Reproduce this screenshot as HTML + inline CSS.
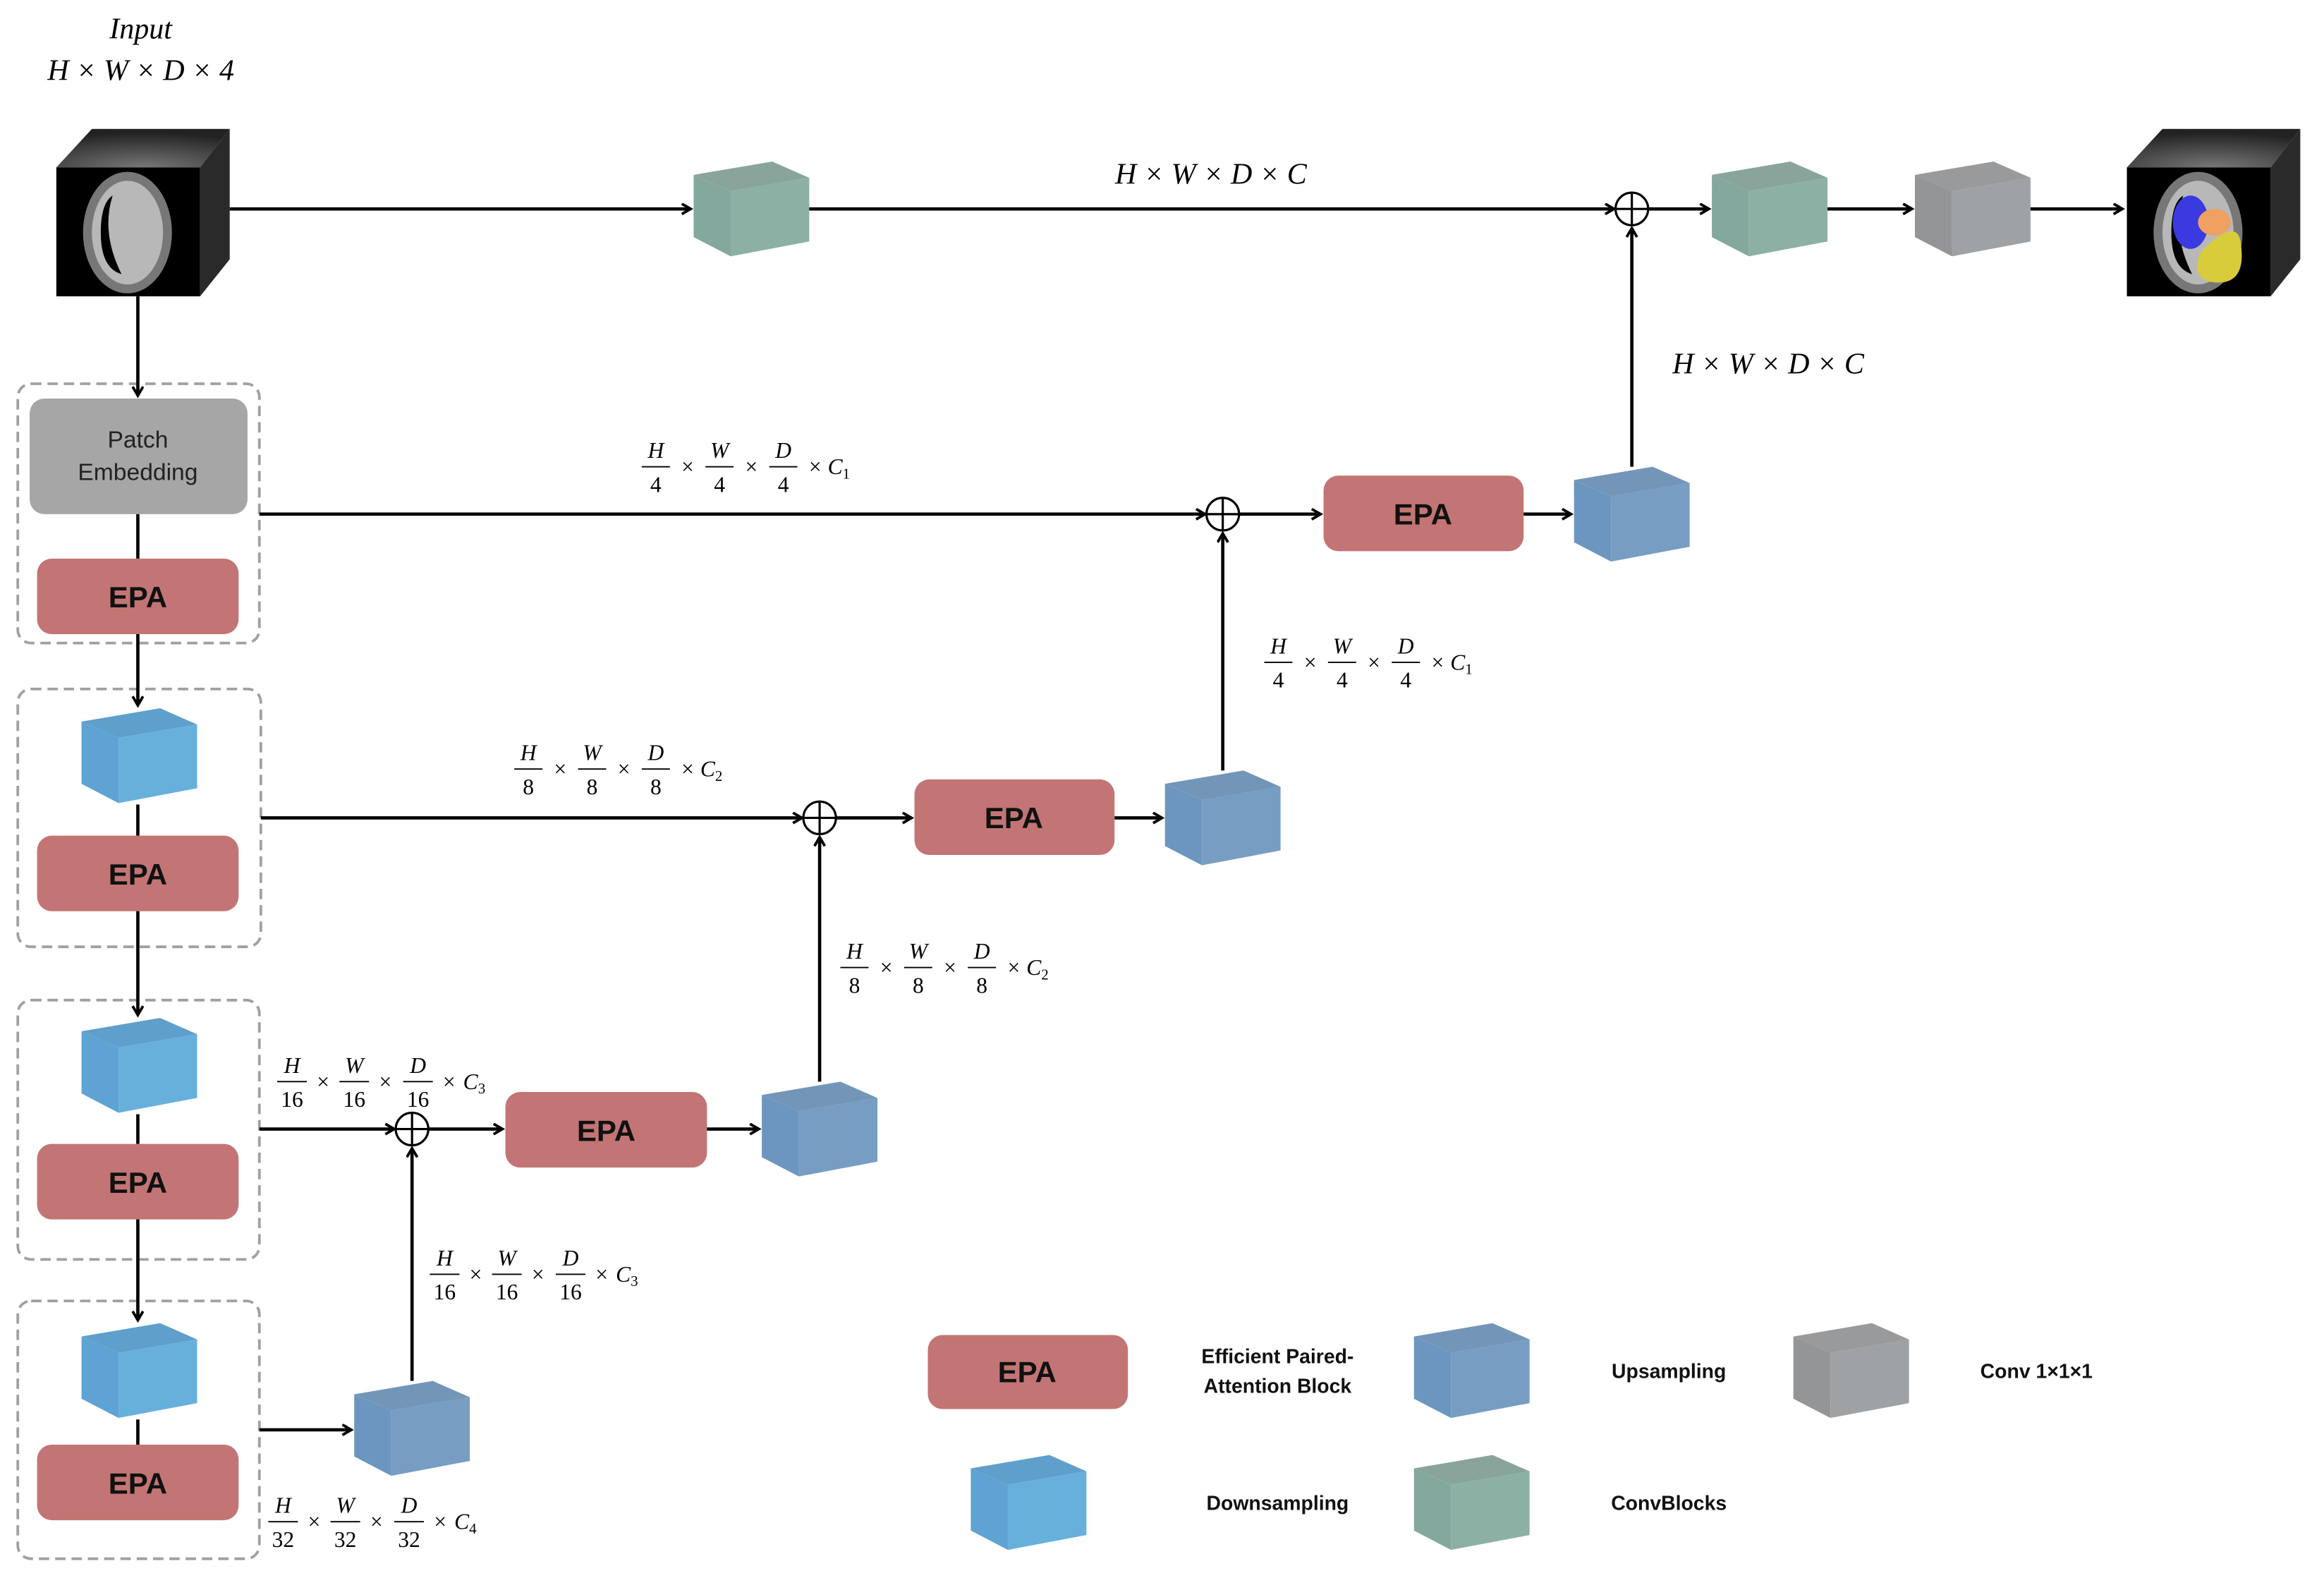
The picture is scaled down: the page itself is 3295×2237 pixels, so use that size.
<!DOCTYPE html>
<html><head><meta charset="utf-8"><style>
html,body{margin:0;padding:0;background:#fff;}
svg{display:block;}
.m text{font-family:"Liberation Serif",serif;font-style:italic;font-size:15px;text-anchor:middle;}
.m text.n{font-style:normal;}
.m line{stroke:#000;stroke-width:0.9;}
.ln{stroke:#000;stroke-width:2.2;fill:none;}
.epa{fill:#c27574;}
.et{font-family:"Liberation Sans",sans-serif;font-weight:bold;font-size:20px;text-anchor:middle;fill:#111;}
.lg{font-family:"Liberation Sans",sans-serif;font-weight:bold;font-size:13.5px;text-anchor:middle;fill:#111;}
</style></head><body>
<svg width="3295" height="2237" viewBox="0 0 1568 1065" preserveAspectRatio="none" xmlns="http://www.w3.org/2000/svg">
<defs>
<marker id="ar" markerWidth="10" markerHeight="10" refX="7" refY="4" orient="auto" markerUnits="userSpaceOnUse">
<path d="M1,0.5 L7,4 L1,7.5" fill="none" stroke="#000" stroke-width="1.8"/></marker>
<g id="cD"><polygon points="0,9 53,0 78,11 25,20" fill="#5f9fcb"/><polygon points="0,9 25,20 25,64 0,51" fill="#5ea3d3"/><polygon points="25,20 78,11 78,54 25,64" fill="#68b0dc"/></g>
<g id="cU"><polygon points="0,9 53,0 78,11 25,20" fill="#7396b8"/><polygon points="0,9 25,20 25,64 0,51" fill="#6c96bf"/><polygon points="25,20 78,11 78,54 25,64" fill="#779dc2"/></g>
<g id="cG"><polygon points="0,9 53,0 78,11 25,20" fill="#89a59b"/><polygon points="0,9 25,20 25,64 0,51" fill="#84a89d"/><polygon points="25,20 78,11 78,54 25,64" fill="#8db0a5"/></g>
<g id="cY"><polygon points="0,9 53,0 78,11 25,20" fill="#999a9b"/><polygon points="0,9 25,20 25,64 0,51" fill="#939596"/><polygon points="25,20 78,11 78,54 25,64" fill="#9ea2a4"/></g>
<radialGradient id="tg" cx="0.5" cy="1" r="0.9"><stop offset="0" stop-color="#777"/><stop offset="1" stop-color="#222"/></radialGradient>
<g id="ct"><polygon points="0,26 24,0 117,0 97,26" fill="url(#tg)"/><polygon points="97,26 117,0 117,88 97,113" fill="#2a2a2a"/><rect x="0" y="26" width="97" height="87" fill="#000"/>
<ellipse cx="48" cy="70" rx="30" ry="41" fill="#777"/><ellipse cx="48" cy="70" rx="24" ry="35" fill="#b8b8b8"/><path d="M38,45 Q30,70 44,98 Q30,94 30,70 Q30,50 38,45Z" fill="#000"/></g>
</defs>

<!-- Input label -->
<text x="95" y="26" font-family="Liberation Serif,serif" font-style="italic" font-size="20" text-anchor="middle">Input</text>
<text x="95" y="54" font-family="Liberation Serif,serif" font-style="italic" font-size="20" text-anchor="middle">H × W × D × 4</text>

<use href="#ct" x="38" y="87"/>
<use href="#ct" x="1435" y="87"/>
<ellipse cx="1478" cy="150" rx="12" ry="18" fill="#3a3ae0"/>
<ellipse cx="1494" cy="150" rx="11" ry="9" fill="#f0a060"/>
<path d="M1485,170 Q1510,145 1512,165 Q1516,195 1490,190 Q1478,185 1485,170Z" fill="#d9cc3b"/>

<!-- top row -->
<line class="ln" x1="155" y1="141" x2="466" y2="141" marker-end="url(#ar)"/>
<use href="#cG" x="468" y="109"/>
<line class="ln" x1="546" y1="141" x2="1089" y2="141" marker-end="url(#ar)"/>
<circle cx="1101" cy="141" r="11" fill="none" stroke="#000" stroke-width="1.5"/>
<line x1="1090" y1="141" x2="1112" y2="141" stroke="#000" stroke-width="1.5"/><line x1="1101" y1="130" x2="1101" y2="152" stroke="#000" stroke-width="1.5"/>
<line class="ln" x1="1112" y1="141" x2="1153" y2="141" marker-end="url(#ar)"/>
<use href="#cG" x="1155" y="109"/>
<line class="ln" x1="1233" y1="141" x2="1290" y2="141" marker-end="url(#ar)"/>
<use href="#cY" x="1292" y="109"/>
<line class="ln" x1="1370" y1="141" x2="1432" y2="141" marker-end="url(#ar)"/>
<text x="817" y="124" font-family="Liberation Serif,serif" font-style="italic" font-size="20" text-anchor="middle">H × W × D × C</text>
<line class="ln" x1="1101" y1="315" x2="1101" y2="154" marker-end="url(#ar)"/>
<text x="1193" y="252" font-family="Liberation Serif,serif" font-style="italic" font-size="20" text-anchor="middle">H × W × D × C</text>

<!-- dashed groups -->
<g fill="none" stroke="#a0a0a0" stroke-width="1.8" stroke-dasharray="7,4">
<rect x="12" y="259" width="163" height="175" rx="9"/>
<rect x="12" y="465" width="164" height="174" rx="9"/>
<rect x="12" y="675" width="163" height="175" rx="9"/>
<rect x="12" y="878" width="163" height="174" rx="9"/>
</g>

<rect x="20" y="269" width="147" height="78" rx="10" fill="#a6a6a6"/>
<text x="93" y="302" font-family="Liberation Sans,sans-serif" font-size="16" text-anchor="middle" fill="#222">Patch</text>
<text x="93" y="324" font-family="Liberation Sans,sans-serif" font-size="16" text-anchor="middle" fill="#222">Embedding</text>

<g>
<rect class="epa" x="25" y="377" width="136" height="51" rx="10"/><text class="et" x="93" y="410">EPA</text>
<rect class="epa" x="25" y="564" width="136" height="51" rx="10"/><text class="et" x="93" y="597">EPA</text>
<rect class="epa" x="25" y="772" width="136" height="51" rx="10"/><text class="et" x="93" y="805">EPA</text>
<rect class="epa" x="25" y="975" width="136" height="51" rx="10"/><text class="et" x="93" y="1008">EPA</text>
</g>
<use href="#cD" x="55" y="478"/>
<use href="#cD" x="55" y="687"/>
<use href="#cD" x="55" y="893"/>

<!-- left vertical -->
<line class="ln" x1="93" y1="200" x2="93" y2="267" marker-end="url(#ar)"/>
<line class="ln" x1="93" y1="347" x2="93" y2="377"/>
<line class="ln" x1="93" y1="428" x2="93" y2="476" marker-end="url(#ar)"/>
<line class="ln" x1="93" y1="543" x2="93" y2="564"/>
<line class="ln" x1="93" y1="615" x2="93" y2="685" marker-end="url(#ar)"/>
<line class="ln" x1="93" y1="752" x2="93" y2="772"/>
<line class="ln" x1="93" y1="823" x2="93" y2="891" marker-end="url(#ar)"/>
<line class="ln" x1="93" y1="958" x2="93" y2="975"/>

<!-- stage 1 -->
<line class="ln" x1="175" y1="347" x2="813" y2="347" marker-end="url(#ar)"/>
<circle cx="825" cy="347" r="11" fill="none" stroke="#000" stroke-width="1.5"/>
<line x1="814" y1="347" x2="836" y2="347" stroke="#000" stroke-width="1.5"/><line x1="825" y1="336" x2="825" y2="358" stroke="#000" stroke-width="1.5"/>
<line class="ln" x1="836" y1="347" x2="891" y2="347" marker-end="url(#ar)"/>
<rect class="epa" x="893" y="321" width="135" height="51" rx="10"/><text class="et" x="960" y="354">EPA</text>
<line class="ln" x1="1028" y1="347" x2="1060" y2="347" marker-end="url(#ar)"/>
<use href="#cU" x="1062" y="315"/>

<!-- stage 2 -->
<line class="ln" x1="176" y1="552" x2="541" y2="552" marker-end="url(#ar)"/>
<circle cx="553" cy="552" r="11" fill="none" stroke="#000" stroke-width="1.5"/>
<line x1="542" y1="552" x2="564" y2="552" stroke="#000" stroke-width="1.5"/><line x1="553" y1="541" x2="553" y2="563" stroke="#000" stroke-width="1.5"/>
<line class="ln" x1="564" y1="552" x2="615" y2="552" marker-end="url(#ar)"/>
<rect class="epa" x="617" y="526" width="135" height="51" rx="10"/><text class="et" x="684" y="559">EPA</text>
<line class="ln" x1="752" y1="552" x2="784" y2="552" marker-end="url(#ar)"/>
<use href="#cU" x="786" y="520"/>
<line class="ln" x1="825" y1="520" x2="825" y2="360" marker-end="url(#ar)"/>

<!-- stage 3 -->
<line class="ln" x1="175" y1="762" x2="266" y2="762" marker-end="url(#ar)"/>
<circle cx="278" cy="762" r="11" fill="none" stroke="#000" stroke-width="1.5"/>
<line x1="267" y1="762" x2="289" y2="762" stroke="#000" stroke-width="1.5"/><line x1="278" y1="751" x2="278" y2="773" stroke="#000" stroke-width="1.5"/>
<line class="ln" x1="289" y1="762" x2="339" y2="762" marker-end="url(#ar)"/>
<rect class="epa" x="341" y="737" width="136" height="51" rx="10"/><text class="et" x="409" y="770">EPA</text>
<line class="ln" x1="477" y1="762" x2="512" y2="762" marker-end="url(#ar)"/>
<use href="#cU" x="514" y="730"/>
<line class="ln" x1="553" y1="730" x2="553" y2="565" marker-end="url(#ar)"/>

<!-- stage 4 -->
<line class="ln" x1="175" y1="965" x2="237" y2="965" marker-end="url(#ar)"/>
<use href="#cU" x="239" y="932"/>
<line class="ln" x1="278" y1="932" x2="278" y2="775" marker-end="url(#ar)"/>

<!-- fraction labels -->
<g class="m" transform="translate(433,315)">
<text x="9.5" y="-6">H</text><line x1="0" x2="19" y1="0" y2="0"/><text class="n" x="9.5" y="17">4</text><text class="n" x="31" y="5">×</text>
<text x="52.5" y="-6">W</text><line x1="43" x2="62" y1="0" y2="0"/><text class="n" x="52.5" y="17">4</text><text class="n" x="74" y="5">×</text>
<text x="95.5" y="-6">D</text><line x1="86" x2="105" y1="0" y2="0"/><text class="n" x="95.5" y="17">4</text><text class="n" x="117" y="5">×</text>
<text x="133" y="5">C<tspan font-size="10" font-style="normal" dy="3">1</tspan></text></g>
<g class="m" transform="translate(853,447)">
<text x="9.5" y="-6">H</text><line x1="0" x2="19" y1="0" y2="0"/><text class="n" x="9.5" y="17">4</text><text class="n" x="31" y="5">×</text>
<text x="52.5" y="-6">W</text><line x1="43" x2="62" y1="0" y2="0"/><text class="n" x="52.5" y="17">4</text><text class="n" x="74" y="5">×</text>
<text x="95.5" y="-6">D</text><line x1="86" x2="105" y1="0" y2="0"/><text class="n" x="95.5" y="17">4</text><text class="n" x="117" y="5">×</text>
<text x="133" y="5">C<tspan font-size="10" font-style="normal" dy="3">1</tspan></text></g>
<g class="m" transform="translate(347,519)">
<text x="9.5" y="-6">H</text><line x1="0" x2="19" y1="0" y2="0"/><text class="n" x="9.5" y="17">8</text><text class="n" x="31" y="5">×</text>
<text x="52.5" y="-6">W</text><line x1="43" x2="62" y1="0" y2="0"/><text class="n" x="52.5" y="17">8</text><text class="n" x="74" y="5">×</text>
<text x="95.5" y="-6">D</text><line x1="86" x2="105" y1="0" y2="0"/><text class="n" x="95.5" y="17">8</text><text class="n" x="117" y="5">×</text>
<text x="133" y="5">C<tspan font-size="10" font-style="normal" dy="3">2</tspan></text></g>
<g class="m" transform="translate(567,653)">
<text x="9.5" y="-6">H</text><line x1="0" x2="19" y1="0" y2="0"/><text class="n" x="9.5" y="17">8</text><text class="n" x="31" y="5">×</text>
<text x="52.5" y="-6">W</text><line x1="43" x2="62" y1="0" y2="0"/><text class="n" x="52.5" y="17">8</text><text class="n" x="74" y="5">×</text>
<text x="95.5" y="-6">D</text><line x1="86" x2="105" y1="0" y2="0"/><text class="n" x="95.5" y="17">8</text><text class="n" x="117" y="5">×</text>
<text x="133" y="5">C<tspan font-size="10" font-style="normal" dy="3">2</tspan></text></g>
<g class="m" transform="translate(187,730)">
<text x="10" y="-6">H</text><line x1="0" x2="20" y1="0" y2="0"/><text class="n" x="10" y="17">16</text><text class="n" x="31" y="5">×</text>
<text x="52" y="-6">W</text><line x1="42" x2="62" y1="0" y2="0"/><text class="n" x="52" y="17">16</text><text class="n" x="73" y="5">×</text>
<text x="95" y="-6">D</text><line x1="85" x2="105" y1="0" y2="0"/><text class="n" x="95" y="17">16</text><text class="n" x="116" y="5">×</text>
<text x="133" y="5">C<tspan font-size="10" font-style="normal" dy="3">3</tspan></text></g>
<g class="m" transform="translate(290,860)">
<text x="10" y="-6">H</text><line x1="0" x2="20" y1="0" y2="0"/><text class="n" x="10" y="17">16</text><text class="n" x="31" y="5">×</text>
<text x="52" y="-6">W</text><line x1="42" x2="62" y1="0" y2="0"/><text class="n" x="52" y="17">16</text><text class="n" x="73" y="5">×</text>
<text x="95" y="-6">D</text><line x1="85" x2="105" y1="0" y2="0"/><text class="n" x="95" y="17">16</text><text class="n" x="116" y="5">×</text>
<text x="133" y="5">C<tspan font-size="10" font-style="normal" dy="3">3</tspan></text></g>
<g class="m" transform="translate(181,1027)">
<text x="10" y="-6">H</text><line x1="0" x2="20" y1="0" y2="0"/><text class="n" x="10" y="17">32</text><text class="n" x="31" y="5">×</text>
<text x="52" y="-6">W</text><line x1="42" x2="62" y1="0" y2="0"/><text class="n" x="52" y="17">32</text><text class="n" x="73" y="5">×</text>
<text x="95" y="-6">D</text><line x1="85" x2="105" y1="0" y2="0"/><text class="n" x="95" y="17">32</text><text class="n" x="116" y="5">×</text>
<text x="133" y="5">C<tspan font-size="10" font-style="normal" dy="3">4</tspan></text></g>

<!-- legend -->
<rect class="epa" x="626" y="901" width="135" height="50" rx="10"/><text class="et" x="693" y="933">EPA</text>
<text class="lg" x="862" y="920">Efficient Paired-</text>
<text class="lg" x="862" y="940">Attention Block</text>
<use href="#cU" x="954" y="893"/>
<text class="lg" x="1126" y="930">Upsampling</text>
<use href="#cY" x="1210" y="893"/>
<text class="lg" x="1374" y="930">Conv 1×1×1</text>
<use href="#cD" x="655" y="982"/>
<text class="lg" x="862" y="1019">Downsampling</text>
<use href="#cG" x="954" y="982"/>
<text class="lg" x="1126" y="1019">ConvBlocks</text>
</svg>
</body></html>
